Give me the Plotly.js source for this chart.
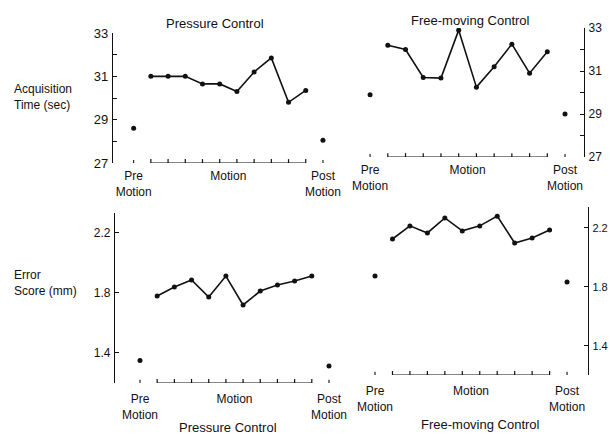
<!DOCTYPE html>
<html>
<head>
<meta charset="utf-8">
<script src="https://cdn.plot.ly/plotly-3.0.1.min.js"></script>
<style>html,body{margin:0;padding:0;background:#fff;}#chart{width:610px;height:434px;}</style>
</head>
<body>
<div id="chart"></div>
<script>
// ---- data ----
const preX = 0;
const motionX = [1, 2, 3, 4, 5, 6, 7, 8, 9, 10];
const postX = 11;
const catTickVals = [0, 5.5, 11];
const catTickText = ['Pre<br>Motion', 'Motion', 'Post<br>Motion'];

const accPressurePre = 28.6;
const accPressureMotion = [31.0, 31.0, 31.0, 30.65, 30.65, 30.3, 31.2, 31.85, 29.8, 30.35];
const accPressurePost = 28.05;

const accFreePre = 29.9;
const accFreeMotion = [32.2, 32.0, 30.7, 30.67, 32.9, 30.25, 31.2, 32.25, 30.9, 31.9];
const accFreePost = 29.0;

const errPressurePre = 1.35;
const errPressureMotion = [1.78, 1.84, 1.887, 1.773, 1.913, 1.72, 1.813, 1.853, 1.88, 1.913];
const errPressurePost = 1.313;

const errFreePre = 1.875;
const errFreeMotion = [2.125, 2.214, 2.166, 2.268, 2.18, 2.214, 2.28, 2.098, 2.132, 2.186];
const errFreePost = 1.834;

const accTickVals = [27, 28, 29, 30, 31, 32, 33];
const accTickText = ['27', '', '29', '', '31', '', '33'];
const errTickVals = [1.4, 1.8, 2.2];
const errTickText = ['1.4', '1.8', '2.2'];

// ---- styles ----
const INK = '#111';
const FONT = 'Liberation Sans, Arial, sans-serif';

function panel(xa, ya, pre, motion, post, yMin, tickH) {
  const upTick = { type: 'constant', value: tickH, valueminus: 0, symmetric: false, width: 0, thickness: 1.2, color: INK };
  const smallTick = { type: 'constant', value: tickH * 0.8, valueminus: 0, symmetric: false, width: 0, thickness: 1.1, color: INK };
  return [
    { x: motionX, y: motion, xaxis: xa, yaxis: ya, mode: 'lines+markers', type: 'scatter',
      line: { color: INK, width: 1.6 }, marker: { color: INK, size: 5 }, hoverinfo: 'skip' },
    { x: [preX, postX], y: [pre, post], xaxis: xa, yaxis: ya, mode: 'markers', type: 'scatter',
      marker: { color: INK, size: 5 }, hoverinfo: 'skip' },
    // bracket under motion sessions, ticks pointing up
    { x: motionX, y: motionX.map(() => yMin), xaxis: xa, yaxis: ya, mode: 'lines', type: 'scatter',
      line: { color: INK, width: 1.2 }, error_y: upTick, hoverinfo: 'skip', cliponaxis: false },
    // small marks at pre / post
    { x: [preX, postX], y: [yMin, yMin], xaxis: xa, yaxis: ya, mode: 'markers', type: 'scatter',
      marker: { size: 1, color: 'rgba(0,0,0,0)' }, error_y: smallTick, hoverinfo: 'skip', cliponaxis: false }
  ];
}

const data = [].concat(
  panel('x', 'y', accPressurePre, accPressureMotion, accPressurePost, 27, 0.18),
  panel('x2', 'y2', accFreePre, accFreeMotion, accFreePost, 27, 0.18),
  panel('x3', 'y3', errPressurePre, errPressureMotion, errPressurePost, 1.2, 0.027),
  panel('x4', 'y4', errFreePre, errFreeMotion, errFreePost, 1.203, 0.027)
);

const W = 610, H = 434;
function xAx(l, r, range, standoff) {
  return { domain: [l / W, r / W], range: range, showgrid: false, zeroline: false, showline: false,
    ticks: '', tickvals: catTickVals, ticktext: catTickText, ticklabelstandoff: standoff,
    tickfont: { family: FONT, size: 12, color: INK }, fixedrange: true };
}
function yAx(top, bottom, range, tv, tt, side, fs) {
  return { domain: [1 - bottom / H, 1 - top / H], range: range, showgrid: false, zeroline: false,
    showline: true, linecolor: INK, linewidth: 1.2, ticks: 'inside', ticklen: 4, tickcolor: INK,
    tickvals: tv, ticktext: tt, side: side, ticklabelstandoff: 1,
    tickfont: { family: FONT, size: fs, color: INK }, fixedrange: true };
}

const layout = {
  width: W, height: H, margin: { l: 0, r: 0, t: 0, b: 0 },
  paper_bgcolor: '#fff', plot_bgcolor: 'rgba(0,0,0,0)', showlegend: false,
  font: { family: FONT, color: INK },
  xaxis: Object.assign(xAx(113, 335, [-1.2, 11.7], 4), { anchor: 'y' }),
  yaxis: Object.assign(yAx(33, 163, [27, 33], accTickVals, accTickText, 'left', 13), { anchor: 'x' }),
  xaxis2: Object.assign(xAx(355, 584, [-0.85, 12.07], 4), { anchor: 'y2' }),
  yaxis2: Object.assign(yAx(28, 157, [27, 33], accTickVals, accTickText, 'right', 12), { anchor: 'x2' }),
  xaxis3: Object.assign(xAx(115, 335, [-1.455, 11.35], 7), { anchor: 'y3' }),
  yaxis3: Object.assign(yAx(213, 383, [1.2, 2.333], errTickVals, errTickText, 'left', 12), { anchor: 'x3' }),
  xaxis4: Object.assign(xAx(360, 588, [-0.86, 12.2], 7), { anchor: 'y4' }),
  yaxis4: Object.assign(yAx(207, 375, [1.203, 2.342], errTickVals, errTickText, 'right', 11), { anchor: 'x4' }),
  annotations: [
    { text: 'Pressure Control', xref: 'paper', yref: 'paper', x: 215 / W, y: 1 - 24 / H, showarrow: false,
      xanchor: 'center', yanchor: 'middle', font: { family: FONT, size: 13, color: INK } },
    { text: 'Free-moving Control', xref: 'paper', yref: 'paper', x: 470 / W, y: 1 - 21 / H, showarrow: false,
      xanchor: 'center', yanchor: 'middle', font: { family: FONT, size: 13, color: INK } },
    { text: 'Pressure Control', xref: 'paper', yref: 'paper', x: 228 / W, y: 1 - 427 / H, showarrow: false,
      xanchor: 'center', yanchor: 'middle', font: { family: FONT, size: 13, color: INK } },
    { text: 'Free-moving Control', xref: 'paper', yref: 'paper', x: 480 / W, y: 1 - 424 / H, showarrow: false,
      xanchor: 'center', yanchor: 'middle', font: { family: FONT, size: 13, color: INK } },
    { text: 'Acquisition<br>Time (sec)', xref: 'paper', yref: 'paper', x: 12 / W, y: 1 - 97 / H, showarrow: false,
      xanchor: 'left', yanchor: 'middle', align: 'left', font: { family: FONT, size: 12, color: INK } },
    { text: 'Error<br>Score (mm)', xref: 'paper', yref: 'paper', x: 12 / W, y: 1 - 283 / H, showarrow: false,
      xanchor: 'left', yanchor: 'middle', align: 'left', font: { family: FONT, size: 12, color: INK } }
  ]
};

Plotly.newPlot('chart', data, layout, { staticPlot: true, displayModeBar: false });
</script>
</body>
</html>
